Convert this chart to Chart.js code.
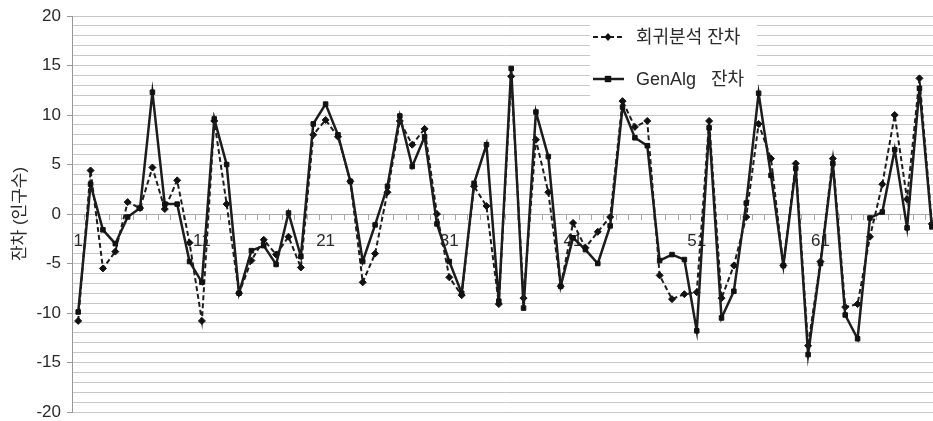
<!DOCTYPE html>
<html><head><meta charset="utf-8">
<script src="https://cdn.jsdelivr.net/npm/chart.js@4.4.1/dist/chart.umd.min.js"></script>
<style>
html,body{margin:0;padding:0;background:#fff;overflow:hidden;width:933px;height:421px}
#wrap{position:relative;width:933px;height:421px;overflow:hidden}
#c{display:block}
</style></head>
<body><div id="wrap"><canvas id="c" width="938" height="421"></canvas></div>
<script>
const categories = ['1','2','3','4','5','6','7','8','9','10','11','12','13','14','15','16','17','18','19','20',
'21','22','23','24','25','26','27','28','29','30','31','32','33','34','35','36','37','38','39','40',
'41','42','43','44','45','46','47','48','49','50','51','52','53','54','55','56','57','58','59','60',
'61','62','63','64','65','66','67','68','69','70'];
const regressionResiduals = [-10.8,4.4,-5.5,-3.8,1.2,0.6,4.7,0.5,3.4,-2.9,
-10.8,9.4,1.0,-8.0,-4.7,-2.6,-4.1,-2.3,-5.4,8.0,
9.5,7.8,3.3,-6.9,-4.0,2.2,9.4,7.0,8.6,0.0,
-6.4,-8.2,2.8,0.8,-9.1,13.9,-8.5,7.5,2.2,-7.3,
-0.9,-3.4,-1.8,-0.3,11.4,8.8,9.4,-6.2,-8.6,-8.1,
-7.9,9.4,-8.5,-5.2,-0.3,9.1,5.6,-5.2,5.1,-13.3,
-4.8,5.6,-9.4,-9.1,-2.3,3.0,10.0,1.5,13.7,-1.0];
const genAlgResiduals = [-9.9,3.0,-1.6,-3.0,-0.3,0.6,12.3,1.0,1.0,-4.8,
-6.9,9.6,5.0,-8.0,-3.7,-3.2,-5.1,0.1,-4.3,9.1,
11.1,8.0,3.3,-4.8,-1.1,2.8,9.9,4.8,7.8,-1.0,
-4.8,-8.0,3.1,7.0,-8.8,14.7,-9.5,10.3,5.8,-7.3,
-2.4,-3.6,-5.0,-1.2,10.8,7.7,6.9,-4.7,-4.1,-4.6,
-11.8,8.7,-10.5,-7.8,1.1,12.2,3.9,-5.2,4.6,-14.2,
-5.0,5.1,-10.2,-12.6,-0.4,0.2,6.5,-1.4,12.7,-1.3];
const xTickLabels = ['1','11','21','31','41','51','61'];
const yTickLabels = [-20,-15,-10,-5,0,5,10,15,20];
const seriesNames = ['회귀분석 잔차','GenAlg   잔차'];
const yTitle = '잔차 (인구수)';

const FONT = "'Liberation Sans','Noto Sans CJK KR',sans-serif";
const TXT = '#2a2a2a';

const boxLegend = {
  id: 'boxLegend',
  beforeDatasetsDraw(chart) {
    const {ctx, chartArea: a} = chart;
    ctx.save();
    ctx.fillStyle = '#fff';
    ctx.fillRect(a.left + 518, a.top + 4, 167, 77);
    ctx.restore();
  },
  afterDatasetsDraw(chart) {
    const {ctx, chartArea: a} = chart;
    ctx.save();
    chart.data.datasets.forEach((ds, i) => {
      const y = a.top + 21 + i * 42;
      const x1 = a.left + 521, x2 = a.left + 552, xm = a.left + 536;
      ctx.strokeStyle = ds.borderColor;
      ctx.lineWidth = ds.borderWidth;
      ctx.setLineDash(ds.borderDash || []);
      ctx.beginPath(); ctx.moveTo(x1, y); ctx.lineTo(x2, y); ctx.stroke();
      ctx.setLineDash([]);
      ctx.fillStyle = ds.pointBackgroundColor;
      const r = ds.pointRadius;
      ctx.beginPath();
      if (ds.pointStyle === 'rectRot') {
        ctx.moveTo(xm, y - r - 0.5); ctx.lineTo(xm + r, y); ctx.lineTo(xm, y + r + 0.5); ctx.lineTo(xm - r, y); ctx.closePath();
      } else {
        ctx.rect(xm - r, y - r, 2 * r, 2 * r);
      }
      ctx.fill();
      ctx.fillStyle = TXT;
      ctx.font = "18px " + FONT;
      ctx.textBaseline = 'middle';
      ctx.textAlign = 'left';
      ctx.fillText(ds.label, a.left + 564, y + 1);
    });
    ctx.restore();
  }
};

new Chart(document.getElementById('c'), {
  type: 'line',
  data: {
    labels: categories,
    datasets: [
      {
        label: seriesNames[0], data: regressionResiduals, order: 1,
        borderColor: '#1c1c1c', borderWidth: 2, borderDash: [5, 3],
        pointStyle: 'rectRot', pointRadius: 3.5, pointBackgroundColor: '#111', pointBorderColor: '#111', pointBorderWidth: 1,
        tension: 0, fill: false, clip: false
      },
      {
        label: seriesNames[1], data: genAlgResiduals, order: 0,
        borderColor: '#1c1c1c', borderWidth: 2.5,
        pointStyle: 'rect', pointRadius: 3.2, pointBackgroundColor: '#111', pointBorderColor: '#111', pointBorderWidth: 1,
        tension: 0, fill: false, clip: false
      }
    ]
  },
  options: {
    responsive: false,
    animation: false,
    devicePixelRatio: 1,
    layout: { autoPadding: false, padding: { top: 16, bottom: 9, left: 0, right: 0 } },
    plugins: { legend: { display: false }, tooltip: { enabled: false } },
    scales: {
      x: {
        type: 'category',
        position: { y: 0 },
        offset: true,
        grid: { offset: true, drawOnChartArea: false, drawTicks: true, tickLength: 5, tickColor: '#aaa' },
        border: { display: true, color: '#aaa', width: 1 },
        ticks: {
          autoSkip: false, maxRotation: 0, padding: 12, color: TXT,
          font: { family: FONT, size: 17 },
          callback(v, i) { const l = categories[i]; return xTickLabels.includes(l) ? l : ''; }
        },
        afterFit(s) { s.paddingLeft = 0; s.paddingRight = 0; s.paddingTop = 0; s.paddingBottom = 0; }
      },
      y: {
        min: -20, max: 20,
        ticks: {
          stepSize: 1, autoSkip: false, padding: 6, color: TXT,
          font: { family: FONT, size: 17 },
          callback(v) { return yTickLabels.includes(v) ? String(v) : ''; }
        },
        grid: {
          color: '#c8c8c8', lineWidth: 1, drawTicks: true, tickLength: 5,
          tickColor: (c) => (c.tick && yTickLabels.includes(c.tick.value)) ? '#999' : 'rgba(0,0,0,0)'
        },
        border: { display: true, color: '#999', width: 1 },
        title: { display: true, text: yTitle, color: TXT, font: { family: FONT, size: 17 }, padding: { top: 10, bottom: 0 } },
        afterFit(s) { s.width = 72; s.paddingTop = 0; s.paddingBottom = 0; s.paddingLeft = 0; s.paddingRight = 0; }
      }
    }
  },
  plugins: [boxLegend]
});
</script>
</body></html>
